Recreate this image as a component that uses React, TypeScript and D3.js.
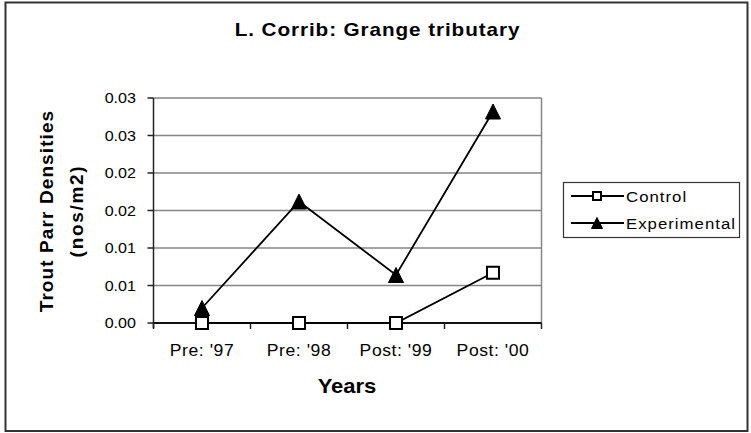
import React from "react";
import * as d3 from "d3";

const categories = ["Pre: '97", "Pre: '98", "Post: '99", "Post: '00"];
const controlValues = [0, 0, 0, 0.0067];
const experimentalValues = [0.002, 0.0162, 0.0064, 0.0282];
const yTickValues = [0, 0.005, 0.01, 0.015, 0.02, 0.025, 0.03];
const yTickLabels = ["0.00", "0.01", "0.01", "0.02", "0.02", "0.03", "0.03"];
const seriesNames = ["Control", "Experimental"];

const W = 751;
const H = 433;
const FONT = "'Liberation Sans', Arial, Helvetica, sans-serif";
const plot = { left: 153.5, right: 541.5, top: 98, bottom: 323 };

function Square({ cx, cy, s }: { cx: number; cy: number; s: number }) {
  return (
    <rect x={cx - s / 2} y={cy - s / 2} width={s} height={s} fill="#fff" stroke="#000" strokeWidth={2} />
  );
}

function Triangle({ cx, cy, w, h }: { cx: number; cy: number; w: number; h: number }) {
  const p = `M${cx},${cy - h / 2}L${cx + w / 2},${cy + h / 2}L${cx - w / 2},${cy + h / 2}Z`;
  return <path d={p} fill="#000" stroke="#000" strokeWidth={1} />;
}

function SText({
  x,
  y,
  sx,
  size,
  anchor = "start",
  bold = false,
  ls = 0,
  children,
}: {
  x: number;
  y: number;
  sx: number;
  size: number;
  anchor?: string;
  bold?: boolean;
  ls?: number;
  children: React.ReactNode;
}) {
  return (
    <g transform={`translate(${x},${y}) scale(${sx},1)`}>
      <text
        x={0}
        y={0}
        textAnchor={anchor as any}
        fontSize={size}
        fontWeight={bold ? "bold" : "normal"}
        letterSpacing={ls}
        fill="#000"
      >
        {children}
      </text>
    </g>
  );
}

export default function App() {
  const x = d3.scaleBand<string>().domain(categories).range([plot.left, plot.right]);
  const y = d3.scaleLinear().domain([0, 0.03]).range([plot.bottom, plot.top]);
  const cx = (c: string) => (x(c) as number) + x.bandwidth() / 2;

  const line = d3
    .line<number>()
    .x((_, i) => cx(categories[i]))
    .y((d) => y(d));

  const bandEdges = [...categories.map((c) => x(c) as number), plot.right];

  return (
    <svg
      width={W}
      height={H}
      viewBox={`0 0 ${W} ${H}`}
      style={{ position: "absolute", left: 0, top: 0, background: "#fff" }}
      fontFamily={FONT}
    >
      <rect x={0} y={0} width={W} height={H} fill="#fff" />
      {/* outer border */}
      <rect x={5.5} y={2.5} width={742} height={428.5} fill="none" stroke="#333" strokeWidth={2} />

      {/* title */}
      <SText x={377.5} y={35.5} sx={1.15} size={18} anchor="middle" bold ls={0.8}>
        L. Corrib: Grange tributary
      </SText>

      {/* gridlines */}
      {yTickValues.map((v, i) => (
        <line key={"g" + i} x1={plot.left} x2={plot.right} y1={y(v)} y2={y(v)} stroke="#858585" strokeWidth={1.5} />
      ))}
      {/* plot border right */}
      <line x1={plot.right} x2={plot.right} y1={plot.top} y2={plot.bottom} stroke="#858585" strokeWidth={1.5} />

      {/* y axis */}
      <line x1={plot.left} x2={plot.left} y1={plot.top} y2={plot.bottom + 5} stroke="#222" strokeWidth={1.5} />
      {yTickValues.map((v, i) => (
        <g key={"yt" + i}>
          <line x1={plot.left - 6} x2={plot.left} y1={y(v)} y2={y(v)} stroke="#222" strokeWidth={1.5} />
          <SText x={136} y={y(v) + 5} sx={1.15} size={14} anchor="end">
            {yTickLabels[i]}
          </SText>
        </g>
      ))}

      {/* x axis */}
      <line x1={plot.left} x2={plot.right} y1={plot.bottom} y2={plot.bottom} stroke="#111" strokeWidth={2} />
      {bandEdges.map((e, i) => (
        <line key={"xt" + i} x1={e} x2={e} y1={plot.bottom} y2={plot.bottom + 6} stroke="#222" strokeWidth={1.5} />
      ))}
      {categories.map((c) => (
        <SText key={c} x={cx(c)} y={356} sx={1.1} size={16} anchor="middle" ls={0.5}>
          {c}
        </SText>
      ))}

      {/* axis titles */}
      <SText x={347} y={393} sx={1.1} size={20} anchor="middle" bold>
        Years
      </SText>
      <g transform="translate(53,211) rotate(-90)">
        <text x={0} y={0} textAnchor="middle" fontSize={19} fontWeight="bold" letterSpacing={1.1}>
          Trout Parr Densities
        </text>
        <text x={0} y={30} textAnchor="middle" fontSize={19} fontWeight="bold" letterSpacing={1.7}>
          (nos/m2)
        </text>
      </g>

      {/* series lines */}
      <path d={line(experimentalValues) || ""} fill="none" stroke="#000" strokeWidth={1.8} />
      <path d={line(controlValues) || ""} fill="none" stroke="#000" strokeWidth={1.8} />

      {/* markers */}
      {experimentalValues.map((v, i) => (
        <Triangle key={"e" + i} cx={cx(categories[i])} cy={y(v)} w={15} h={15} />
      ))}
      {controlValues.map((v, i) => (
        <Square key={"c" + i} cx={cx(categories[i])} cy={y(v)} s={12} />
      ))}

      {/* legend */}
      <rect x={563.5} y={182.5} width={176} height={55} fill="#fff" stroke="#333" strokeWidth={1.2} />
      {seriesNames.map((n, i) => {
        const ly = 196 + i * 27;
        return (
          <g key={n}>
            <line x1={571} x2={624} y1={ly} y2={ly} stroke="#000" strokeWidth={1.8} />
            {i === 0 ? <Square cx={597} cy={ly} s={8} /> : <Triangle cx={597} cy={ly} w={11} h={11} />}
            <SText x={626} y={ly + 5.5} sx={1.12} size={15} ls={0.9}>
              {n}
            </SText>
          </g>
        );
      })}
    </svg>
  );
}
